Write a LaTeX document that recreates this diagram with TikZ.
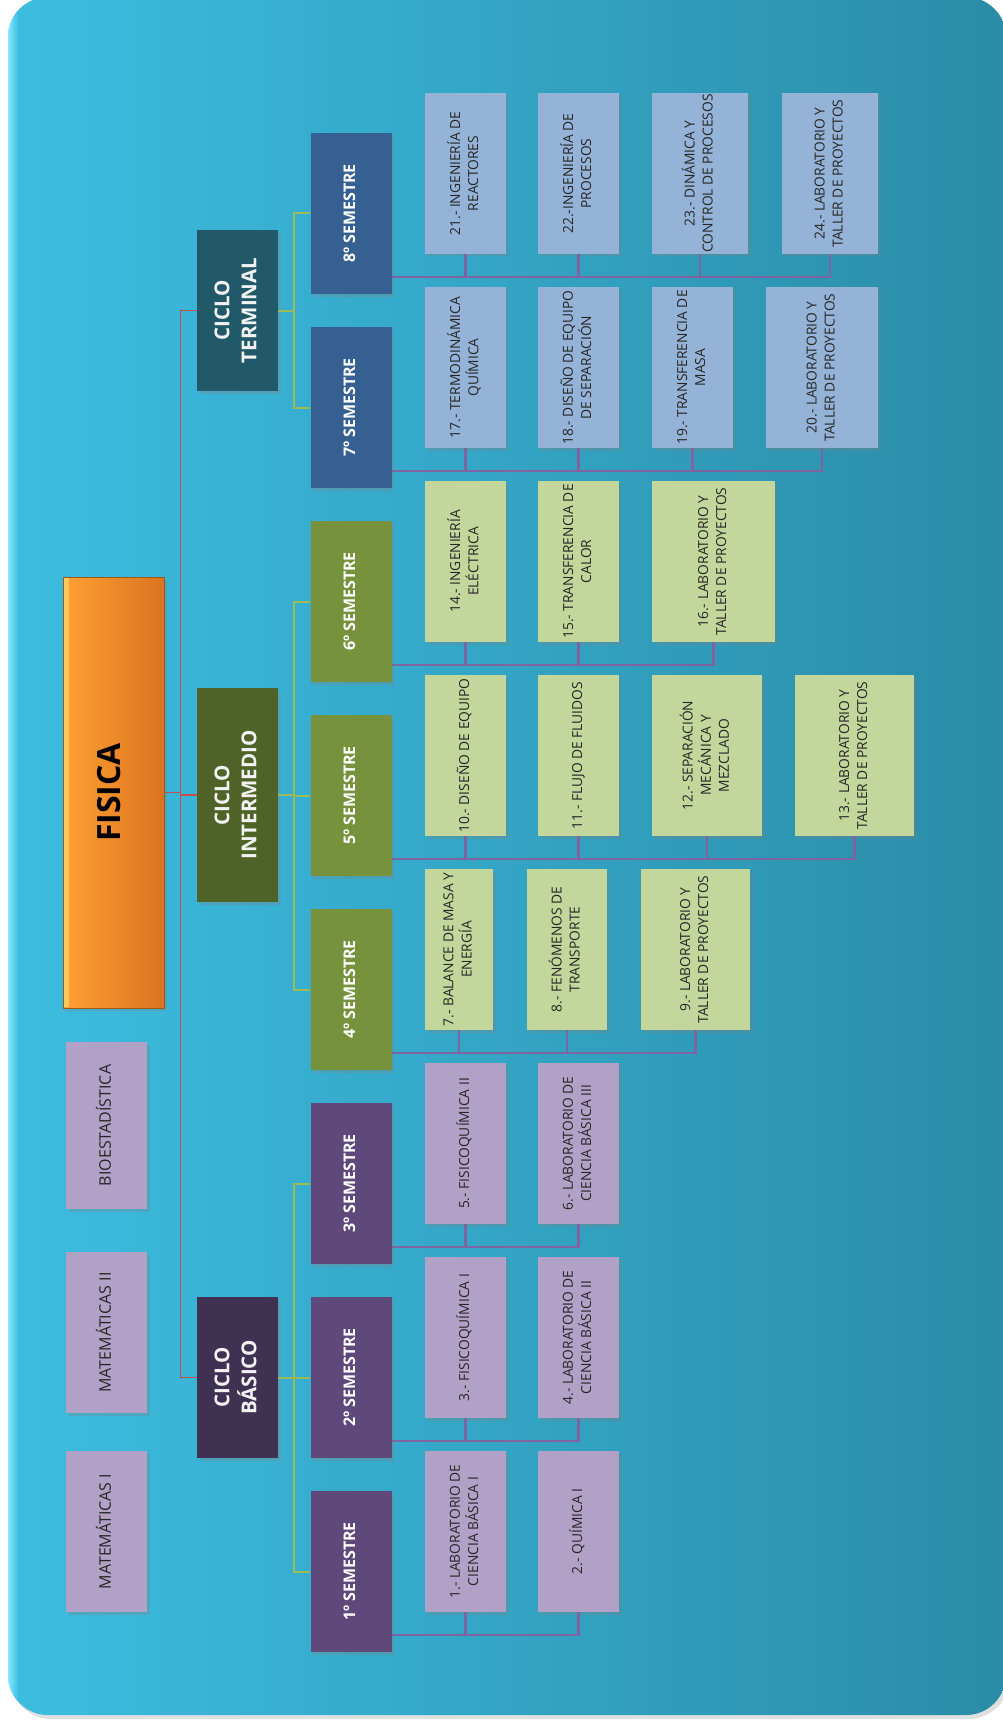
\documentclass[tikz,border=0pt]{standalone}
\usepackage{fontspec}
\setmainfont{Open Sans}
\usepackage{graphicx}
\usetikzlibrary{shadows,calc}

\definecolor{bgL}{HTML}{3DBDE1}
\definecolor{bgR}{HTML}{2A8CA7}
\definecolor{bgHi}{HTML}{86E9FF}
\definecolor{lilac}{HTML}{B2A1C7}
\definecolor{basDark}{HTML}{3F3151}
\definecolor{basSem}{HTML}{5F497A}
\definecolor{intDark}{HTML}{4F6228}
\definecolor{intSem}{HTML}{76923C}
\definecolor{intCourse}{HTML}{C3D69B}
\definecolor{terDark}{HTML}{215968}
\definecolor{terSem}{HTML}{366092}
\definecolor{terCourse}{HTML}{95B3D7}
\definecolor{linkPurple}{HTML}{8064A2}
\definecolor{linkGreen}{HTML}{9BBB59}
\definecolor{linkRed}{HTML}{C0504D}
\definecolor{fisL}{HTML}{FFA033}
\definecolor{fisR}{HTML}{DB731F}
\definecolor{fisD}{HTML}{9C5A1A}
\definecolor{fisHi}{HTML}{FFD466}

\newcommand{\vlabel}[1]{\rotatebox{90}{\begin{tabular}{@{}c@{}}#1\end{tabular}}}

\tikzset{box/.style={inner sep=0pt, minimum width=81pt, minimum height=161pt,
    drop shadow={shadow xshift=2.5pt, shadow yshift=-2.5pt, opacity=0.3}},
  curso/.style={box, fill=#1, text=black!85,
    font=\fontsize{13.8}{18}\selectfont},
  semestre/.style={box, fill=#1, text=white,
    font=\fontsize{16}{20}\selectfont\bfseries},
  ciclo/.style={box, fill=#1, text=white!95!black,
    font=\fontsize{20.5}{27}\selectfont\bfseries},
  extra/.style={box, fill=lilac, text=black!85,
    font=\fontsize{16}{20}\selectfont},
  raiz/.style={inner sep=0pt, minimum width=101pt, minimum height=431pt,
    left color=fisL, right color=fisR, draw=fisD, line width=1pt,
    font=\fontsize{32}{36}\selectfont\bfseries, text=black,
    drop shadow={shadow xshift=2.5pt, shadow yshift=-2.5pt, opacity=0.3}},
  redline/.style={draw=linkRed, line width=1.8pt},
  greenline/.style={draw=linkGreen, line width=2pt},
  purpleline/.style={draw=linkPurple, line width=2.2pt}
}

\begin{document}
\begin{tikzpicture}[x=1pt, y=-1pt]
    \useasboundingbox (0, 0) rectangle (1003, 1720);
    \fill[black, opacity=0.12, rounded corners=40pt] (11, 0) rectangle (1009, 1719);
    \shade[left color=bgL, right color=bgR, rounded corners=40pt]
    (8, -3) rectangle (1006, 1715);
    \begin{scope}
      \clip[rounded corners=40pt] (8, -3) rectangle (1006, 1715);
      \shade[left color=bgHi, right color=bgL] (8, -3) rectangle (18, 1715);
    \end{scope}

    \draw (113.5, 792.5) node[raiz] (fis) {\vlabel{FISICA}};
    \fill[fisHi, opacity=0.8] ($(fis.north west)+(1.5, 1.5)$) rectangle
    ($(fis.south west)+(6, -1.5)$);

    \draw (106.5, 1125.5) node[extra, minimum height=167pt] (bio)
    {\vlabel{BIOESTADÍSTICA}};
    \draw (106.5, 1332.5) node[extra] (mat2) {\vlabel{MATEMÁTICAS II}};
    \draw (106.5, 1531.5) node[extra] (mat1) {\vlabel{MATEMÁTICAS I}};

    \draw (237.5, 310.5) node[ciclo=terDark] (cter) {\vlabel{CICLO\\TERMINAL}};
    \draw (237.5, 795) node[ciclo=intDark, minimum height=214pt] (cint)
    {\vlabel{CICLO\\INTERMEDIO}};
    \draw (237.5, 1377.5) node[ciclo=basDark] (cbas) {\vlabel{CICLO\\BÁSICO}};

    \foreach \n/\y/\c in {1/1571.5/basSem, 2/1377.5/basSem, 3/1183.5/basSem,
      4/989.5/intSem, 5/795.5/intSem, 6/601.5/intSem,
      7/407.5/terSem, 8/213.5/terSem}
      \draw (351, \y) node[semestre=\c] (s\n) {\vlabel{{\n}º SEMESTRE}};

    \draw (465.5, 1531.5) node[curso=lilac] (c1)
    {\vlabel{1.- LABORATORIO DE\\CIENCIA BÁSICA I}};
    \draw (578.5, 1531.5) node[curso=lilac] (c2) {\vlabel{2.- QUÍMICA I}};
    \draw (465.5, 1337.5) node[curso=lilac] (c3) {\vlabel{3.- FISICOQUÍMICA I}};
    \draw (578.5, 1337.5) node[curso=lilac] (c4)
    {\vlabel{4.- LABORATORIO DE\\CIENCIA BÁSICA II}};
    \draw (465.5, 1143.5) node[curso=lilac] (c5) {\vlabel{5.- FISICOQUÍMICA II}};
    \draw (578.5, 1143.5) node[curso=lilac] (c6)
    {\vlabel{6.- LABORATORIO DE\\CIENCIA BÁSICA III}};

    \draw (459, 949.5) node[curso=intCourse, minimum width=68pt] (c7)
    {\vlabel{7.- BALANCE DE MASA Y\\ENERGÍA}};
    \draw (567, 949.5) node[curso=intCourse, minimum width=80pt] (c8)
    {\vlabel{8.- FENÓMENOS DE\\TRANSPORTE}};
    \draw (695.5, 949.5) node[curso=intCourse, minimum width=109pt] (c9)
    {\vlabel{9.- LABORATORIO Y\\TALLER DE PROYECTOS}};
    \draw (465.5, 755.5) node[curso=intCourse] (c10) {\vlabel{10.- DISEÑO DE EQUIPO}};
    \draw (578.5, 755.5) node[curso=intCourse] (c11) {\vlabel{11.- FLUJO DE FLUIDOS}};
    \draw (707, 755.5) node[curso=intCourse, minimum width=110pt] (c12)
    {\vlabel{12.- SEPARACIÓN\\MECÁNICA Y\\MEZCLADO}};
    \draw (854.5, 755.5) node[curso=intCourse, minimum width=119pt] (c13)
    {\vlabel{13.- LABORATORIO Y\\TALLER DE PROYECTOS}};
    \draw (465.5, 561.5) node[curso=intCourse] (c14)
    {\vlabel{14.- INGENIERÍA\\ELÉCTRICA}};
    \draw (578.5, 561.5) node[curso=intCourse] (c15)
    {\vlabel{15.- TRANSFERENCIA DE\\CALOR}};
    \draw (713.5, 561.5) node[curso=intCourse, minimum width=123pt] (c16)
    {\vlabel{16.- LABORATORIO Y\\TALLER DE PROYECTOS}};

    \draw (465.5, 367.5) node[curso=terCourse] (c17)
    {\vlabel{17.- TERMODINÁMICA\\QUÍMICA}};
    \draw (578.5, 367.5) node[curso=terCourse] (c18)
    {\vlabel{18.- DISEÑO DE EQUIPO\\DE SEPARACIÓN}};
    \draw (692.5, 367.5) node[curso=terCourse] (c19)
    {\vlabel{19.- TRANSFERENCIA DE\\MASA}};
    \draw (822, 367.5) node[curso=terCourse, minimum width=112pt] (c20)
    {\vlabel{20.- LABORATORIO Y\\TALLER DE PROYECTOS}};
    \draw (465.5, 173.5) node[curso=terCourse] (c21)
    {\vlabel{21.- INGENIERÍA DE\\REACTORES}};
    \draw (578.5, 173.5) node[curso=terCourse] (c22)
    {\vlabel{22.-INGENIERÍA DE\\PROCESOS}};
    \draw (700, 173.5) node[curso=terCourse, minimum width=96pt] (c23)
    {\vlabel{23.- DINÁMICA Y\\CONTROL DE PROCESOS}};
    \draw (830, 173.5) node[curso=terCourse, minimum width=96pt] (c24)
    {\vlabel{24.- LABORATORIO Y\\TALLER DE PROYECTOS}};

    \coordinate (redx) at (180.5, 0);
    \coordinate (grnx) at (294, 0);
    \draw[redline] (fis.east) -- (fis.east -| redx);
    \draw[redline] (cint.west) -- (cint.west -| redx);
    \draw[redline] (cter.west) -- (cter.west -| redx) -- (cbas.west -| redx)
    -- (cbas.west);

    \foreach \cy/\top/\mid/\bot in {cter/s8/s8/s7, cint/s6/s5/s4, cbas/s3/s2/s1} {
      \draw[greenline] (\cy.east) -- (\cy.east -| grnx);
      \draw[greenline] (\mid.west) -- (\mid.west -| grnx);
      \draw[greenline] (\top.west) -- (\top.west -| grnx) -- (\bot.west -| grnx)
      -- (\bot.west);
    }

    \foreach \s/\l/\cs in {s1/c2/{c1,c2}, s2/c4/{c3,c4}, s3/c6/{c5,c6},
      s4/c9/{c7,c8,c9}, s5/c13/{c10,c11,c12,c13}, s6/c16/{c14,c15,c16},
      s7/c20/{c17,c18,c19,c20}, s8/c24/{c21,c22,c23,c24}} {
      \draw[purpleline] (\s.south east) ++(0, -17) -| (\l.south);
      \foreach \c in \cs
        \draw[purpleline] (\c.south) -- ++(0, 23);
    }
\end{tikzpicture}
\end{document}
